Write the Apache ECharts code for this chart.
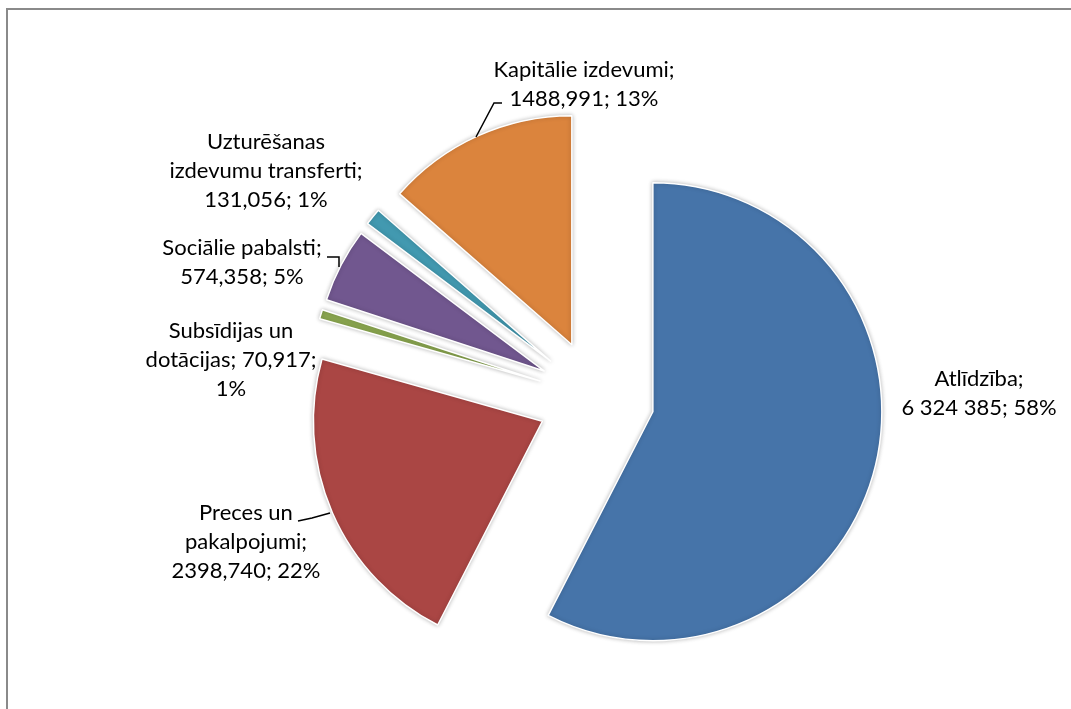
<!DOCTYPE html>
<html>
<head>
<meta charset="utf-8">
<script src="https://cdn.jsdelivr.net/npm/echarts@6/dist/echarts.min.js"></script>
<style>
html,body{margin:0;padding:0;background:#fff;}
#chart{width:1071px;height:709px;}
</style>
</head>
<body>
<div id="chart"></div>
<script>
// ---- data ----
const categories = ['Atlīdzība', 'Preces un pakalpojumi', 'Subsīdijas un dotācijas', 'Sociālie pabalsti', 'Uzturēšanas izdevumu transferti', 'Kapitālie izdevumi'];
const values = [6324.385, 2398.740, 70.917, 574.358, 131.056, 1488.991];
const valueLabels = ['6 324 385', '2398,740', '70,917', '574,358', '131,056', '1488,991'];
const percentLabels = ['58%', '22%', '1%', '5%', '1%', '13%'];
const nameLines = ['Atlīdzība;', 'Preces un\npakalpojumi;', 'Subsīdijas un\ndotācijas;', 'Sociālie pabalsti;', 'Uzturēšanas\nizdevumu transferti;', 'Kapitālie izdevumi;'];

// ---- styling / layout (not data) ----
const colors = ['#4674A9', '#AA4644', '#8AA64F', '#71578F', '#4299B0', '#DB843D'];
const sep1 = ['\n', '\n', ' ', '\n', '\n', '\n'];
const sep2 = [' ', ' ', '\n', ' ', ' ', ' '];
const labelPos = [[979, 393], [246, 542], [231, 360], [242, 262], [266, 171], [584, 84]];
const leaderPts = [null, [[330, 513], [312, 518], [298, 521]], null, [[339, 267], [339, 257], [327, 257]], null, [[476, 137], [494, 103], [502, 103]]];
const FONT = 'Lato, "Open Sans", sans-serif';

const labelText = i => nameLines[i] + sep1[i] + valueLabels[i] + ';' + sep2[i] + percentLabels[i];

const graphics = [{
  type: 'rect',
  shape: {x: 7, y: 9, width: 1200, height: 900},
  style: {fill: 'none', stroke: '#8a8a8a', lineWidth: 2},
  silent: true, z: 0
}];
categories.forEach((c, i) => {
  graphics.push({
    type: 'text', x: labelPos[i][0], y: labelPos[i][1], z: 10,
    style: {
      text: labelText(i), fontFamily: FONT, fontSize: 22, lineHeight: 29,
      fill: '#000', align: 'center', verticalAlign: 'middle'
    }
  });
  if (leaderPts[i]) {
    graphics.push({
      type: 'polyline', z: 10,
      shape: {points: leaderPts[i]},
      style: {stroke: '#000', lineWidth: 1.5, fill: null}
    });
  }
});

const chart = echarts.init(document.getElementById('chart'), null, {renderer: 'canvas'});
const data = categories.map((c, i) => ({
  name: c,
  value: values[i],
  selected: true,
  itemStyle: {color: colors[i]}
}));

chart.setOption({
  animation: false,
  backgroundColor: '#fff',
  graphic: graphics,
  series: [{
    type: 'pie',
    center: [596, 398],
    radius: 229,
    startAngle: 90,
    clockwise: true,
    selectedMode: 'multiple',
    selectedOffset: 58.5,
    emphasis: {disabled: true},
    itemStyle: {borderColor: '#fff', borderWidth: 1.5, shadowBlur: 4, shadowColor: 'rgba(0,0,0,0.25)'},
    select: {itemStyle: {borderColor: '#fff', borderWidth: 1.5}},
    label: {show: false},
    labelLine: {show: false},
    data: data
  }]
});
</script>
</body>
</html>
